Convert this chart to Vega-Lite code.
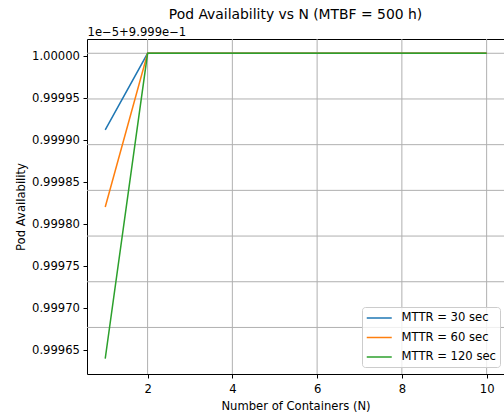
{
  "$schema": "https://vega.github.io/schema/vega-lite/v6.json",
  "width": 417,
  "height": 335,
  "autosize": {"type": "none"},
  "padding": {"left": 87, "top": 39, "right": 0, "bottom": 45},
  "background": "white",
  "config": {
    "font": "DejaVu Sans",
    "view": {"stroke": null},
    "axis": {
      "domainColor": "black",
      "domainWidth": 1,
      "tickColor": "black",
      "tickWidth": 1,
      "tickSize": 4,
      "labelColor": "black",
      "labelFontSize": 11.6,
      "labelPadding": 3.5,
      "titleColor": "black",
      "titleFontSize": 11.6,
      "titleFontWeight": "normal"
    }
  },
  "title": {
    "text": "Pod Availability vs N (MTBF = 500 h)",
    "fontSize": 13.9,
    "fontWeight": "normal",
    "color": "black",
    "offset": 4
  },
  "datasets": {
    "vgrid": [{"n": 2}, {"n": 4}, {"n": 6}, {"n": 8}, {"n": 10}],
    "hgrid": [
      {"v": 1.0000036},
      {"v": 0.9999492},
      {"v": 0.9998948},
      {"v": 0.9998404},
      {"v": 0.999786},
      {"v": 0.9997316},
      {"v": 0.9996772}
    ],
    "avail": [
      {"n": 1, "a": 0.9999123, "mttr": "MTTR = 30 sec"},
      {"n": 2, "a": 1.0000036, "mttr": "MTTR = 30 sec"},
      {"n": 3, "a": 1.0000036, "mttr": "MTTR = 30 sec"},
      {"n": 4, "a": 1.0000036, "mttr": "MTTR = 30 sec"},
      {"n": 5, "a": 1.0000036, "mttr": "MTTR = 30 sec"},
      {"n": 6, "a": 1.0000036, "mttr": "MTTR = 30 sec"},
      {"n": 7, "a": 1.0000036, "mttr": "MTTR = 30 sec"},
      {"n": 8, "a": 1.0000036, "mttr": "MTTR = 30 sec"},
      {"n": 9, "a": 1.0000036, "mttr": "MTTR = 30 sec"},
      {"n": 10, "a": 1.0000036, "mttr": "MTTR = 30 sec"},
      {"n": 1, "a": 0.9998206, "mttr": "MTTR = 60 sec"},
      {"n": 2, "a": 1.0000036, "mttr": "MTTR = 60 sec"},
      {"n": 3, "a": 1.0000036, "mttr": "MTTR = 60 sec"},
      {"n": 4, "a": 1.0000036, "mttr": "MTTR = 60 sec"},
      {"n": 5, "a": 1.0000036, "mttr": "MTTR = 60 sec"},
      {"n": 6, "a": 1.0000036, "mttr": "MTTR = 60 sec"},
      {"n": 7, "a": 1.0000036, "mttr": "MTTR = 60 sec"},
      {"n": 8, "a": 1.0000036, "mttr": "MTTR = 60 sec"},
      {"n": 9, "a": 1.0000036, "mttr": "MTTR = 60 sec"},
      {"n": 10, "a": 1.0000036, "mttr": "MTTR = 60 sec"},
      {"n": 1, "a": 0.9996401, "mttr": "MTTR = 120 sec"},
      {"n": 2, "a": 1.0000036, "mttr": "MTTR = 120 sec"},
      {"n": 3, "a": 1.0000036, "mttr": "MTTR = 120 sec"},
      {"n": 4, "a": 1.0000036, "mttr": "MTTR = 120 sec"},
      {"n": 5, "a": 1.0000036, "mttr": "MTTR = 120 sec"},
      {"n": 6, "a": 1.0000036, "mttr": "MTTR = 120 sec"},
      {"n": 7, "a": 1.0000036, "mttr": "MTTR = 120 sec"},
      {"n": 8, "a": 1.0000036, "mttr": "MTTR = 120 sec"},
      {"n": 9, "a": 1.0000036, "mttr": "MTTR = 120 sec"},
      {"n": 10, "a": 1.0000036, "mttr": "MTTR = 120 sec"}
    ]
  },
  "layer": [
    {
      "data": {"name": "vgrid"},
      "mark": {"type": "rule", "color": "#b0b0b0", "strokeWidth": 1},
      "encoding": {
        "x": {
          "field": "n",
          "type": "quantitative",
          "scale": {"domain": [0.57, 10.41], "nice": false, "zero": false},
          "axis": {
            "orient": "top",
            "labels": false,
            "ticks": false,
            "grid": false,
            "title": "1e−5+9.999e−1",
            "titleAnchor": "start",
            "titleAlign": "left",
            "titleBaseline": "alphabetic",
            "titlePadding": 4
          }
        }
      }
    },
    {
      "data": {"name": "hgrid"},
      "mark": {"type": "rule", "color": "#b0b0b0", "strokeWidth": 1},
      "encoding": {
        "y": {
          "field": "v",
          "type": "quantitative",
          "scale": {"domain": [0.99962177, 1.0000206], "nice": false, "zero": false},
          "axis": {
            "values": [0.99965, 0.9997, 0.99975, 0.9998, 0.99985, 0.9999, 0.99995, 1.0],
            "format": ".5f",
            "grid": false,
            "title": "Pod Availability",
            "titlePadding": 5
          }
        }
      }
    },
    {
      "data": {"name": "avail"},
      "mark": {"type": "line", "strokeWidth": 1.5},
      "encoding": {
        "x": {
          "field": "n",
          "type": "quantitative",
          "scale": {"domain": [0.57, 10.41], "nice": false, "zero": false},
          "axis": {
            "orient": "bottom",
            "values": [2, 4, 6, 8, 10],
            "format": "d",
            "grid": false,
            "labelPadding": 5.5,
            "title": "Number of Containers (N)",
            "titlePadding": 5
          }
        },
        "y": {
          "field": "a",
          "type": "quantitative",
          "scale": {"domain": [0.99962177, 1.0000206], "nice": false, "zero": false},
          "axis": {
            "values": [0.99965, 0.9997, 0.99975, 0.9998, 0.99985, 0.9999, 0.99995, 1.0],
            "format": ".5f",
            "grid": false,
            "title": "Pod Availability",
            "titlePadding": 5
          }
        },
        "color": {
          "field": "mttr",
          "type": "nominal",
          "scale": {
            "domain": ["MTTR = 30 sec", "MTTR = 60 sec", "MTTR = 120 sec"],
            "range": ["#1f77b4", "#ff7f0e", "#2ca02c"]
          },
          "legend": {
            "title": null,
            "orient": "none",
            "legendX": 275,
            "legendY": 268,
            "symbolType": "M-1,0H3",
            "symbolSize": 156.25,
            "symbolStrokeWidth": 1.5,
            "labelFontSize": 11.6,
            "labelColor": "black",
            "labelOffset": 21.5,
            "rowPadding": 6.5,
            "padding": 4,
            "fillColor": "rgba(255,255,255,0.8)",
            "strokeColor": "#cccccc",
            "cornerRadius": 3
          }
        }
      }
    }
  ],
  "resolve": {"axis": {"x": "independent"}}
}
